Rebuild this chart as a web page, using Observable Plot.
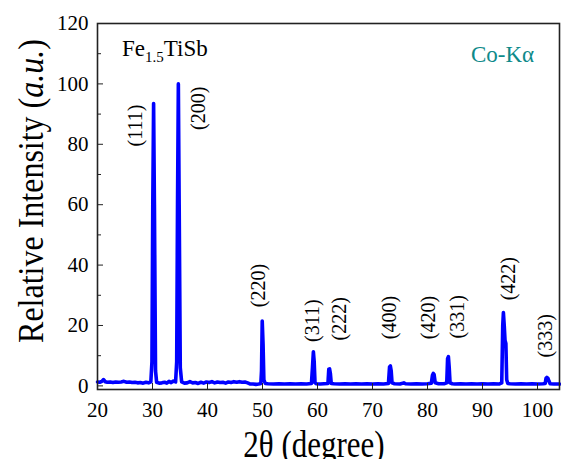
<!DOCTYPE html>
<html><head><meta charset="utf-8">
<script src="https://cdn.jsdelivr.net/npm/d3@7"></script>
<script src="https://cdn.jsdelivr.net/npm/@observablehq/plot@0.6"></script>
<style>
body{margin:0;background:#fff}
svg, svg text, svg tspan{font-family:"Liberation Serif","Times New Roman",serif !important}
</style>
</head><body><div id="chart"></div>
<script>
// XRD pattern of Fe1.5TiSb (Co-Kα)
const twoTheta = [
 20.0,20.4,20.8,21.1,21.4,21.8,22.3,22.8,23.3,23.8,24.3,24.8,25.3,25.8,26.3,26.8,27.3,27.8,28.3,28.8,29.3,29.7,
 29.9,30.05,30.2,30.35,30.55,30.75,31.2,31.7,32.2,32.6,33.0,33.4,33.8,34.2,
 34.4,34.55,34.7,34.85,35.05,35.3,35.8,36.3,36.8,37.3,37.8,38.3,38.8,39.3,39.8,40.3,40.8,41.3,41.8,42.3,42.8,
 43.3,43.8,44.3,44.8,45.3,45.8,46.3,46.8,47.3,47.8,48.3,48.8,49.3,49.7,
 49.82,49.95,50.1,50.25,50.5,51,52,53,54,55,56,57,58,58.9,
 59.08,59.25,59.4,59.55,59.8,60.5,61.2,61.9,62.05,62.2,62.35,62.5,63,64,65,66,67,68,69,70,71,72,72.9,
 73.1,73.25,73.4,73.55,74,75,75.7,76,77,78,79,80,80.7,80.9,81.05,81.2,81.4,82,83,83.5,
 83.65,83.8,83.95,84.1,84.5,85,86,87,88,89,90,91,92,93,93.5,
 93.68,93.8,93.95,94.1,94.25,94.4,94.6,95,96,97,98,99,100,101,101.4,
 101.55,101.7,101.9,102.1,102.3,103,104
];
const intensity = [
 1.3,1.2,1.5,2.1,1.4,1.2,1.3,1.1,1.3,1.2,1.3,1.5,1.2,1.3,1.1,1.2,1.0,1.1,0.9,1.2,1.0,1.3,
 8,60,93.5,60,5,1.2,0.9,1.0,1.2,0.9,1.5,1.1,1.6,1.3,
 8,60,100,60,6,1.3,0.9,1.0,1.4,1.0,1.1,0.8,1.2,0.9,1.3,1.1,1.4,1.0,1.3,1.1,1.2,
 0.9,1.3,1.1,1.4,1.2,1.4,1.2,1.3,1.0,0.6,0.6,0.5,0.6,0.8,
 5,21.5,14,2,0.8,0.7,0.6,0.7,0.6,0.7,0.6,0.7,0.6,0.8,
 6,11.3,8,1,0.7,0.6,0.7,0.8,5.5,5.6,4,0.8,0.7,0.6,0.7,0.6,0.7,0.6,0.7,0.6,0.7,0.6,0.8,
 6.3,6.6,5,1,0.7,0.6,1.0,0.7,0.6,0.7,0.6,0.7,0.9,3.5,4.1,3.8,1.0,0.7,0.7,1.0,
 9,9.7,6,1,0.7,0.6,0.7,0.6,0.7,0.6,0.7,0.6,0.7,0.6,1.0,
 20,24.3,20,15,14,2,0.8,0.7,0.6,0.7,0.6,0.7,0.6,0.7,0.8,
 2.5,2.8,2.5,1.5,0.7,0.6,0.6
];
const peakLabels = ["(111)","(200)","(220)","(311)","(222)","(400)","(420)","(331)","(422)","(333)"];
const labelX = [26.9,38.4,49.3,59.1,64.0,73.1,80.2,85.5,94.7,101.5];
const labelY = [86.2,91.9,33.2,21.6,22.2,22.6,22.6,22.9,35.5,16.6];
const xTicks = [20,30,40,50,60,70,80,90,100];
const yTicks = [0,20,40,60,80,100,120];
const yMinorTicks = [10,30,50,70,90,110];

const pattern = twoTheta.map((x, i) => ({x, y: intensity[i]}));
const labels = peakLabels.map((t, i) => ({t, x: labelX[i], y: labelY[i]}));
const serif = '"Liberation Serif","Times New Roman",serif';

const plot = Plot.plot({
  width: 561, height: 459,
  marginLeft: 97, marginRight: 2, marginTop: 23, marginBottom: 70,
  style: {fontFamily: serif, background: "white", color: "black"},
  x: {domain: [20, 104]},
  y: {domain: [-1.2, 120]},
  marks: [
    Plot.line(pattern, {x: "x", y: "y", stroke: "#0000ff", strokeWidth: 3.6, strokeLinejoin: "round"}),
    Plot.frame({stroke: "#222", strokeWidth: 1.6}),
    Plot.axisX(xTicks, {tickSize: -6, tickPadding: 19, fontSize: 21, fontFamily: serif, label: null, stroke: "#222"}),
    Plot.axisY(yTicks, {tickSize: -6, tickPadding: 15, fontSize: 21, fontFamily: serif, label: null, stroke: "#222"}),
    Plot.axisY(yMinorTicks, {tickSize: -4, fill: "none", label: null, stroke: "#222"}),
    Plot.text(labels, {x: "x", y: "y", text: "t", rotate: -90, fontSize: 20, fontFamily: serif, fill: "black"})
  ]
});

const svg = d3.select(plot);
svg.style("overflow", "visible");
// y axis title
const yt = svg.append("text")
  .attr("transform", "translate(43,191) rotate(-90) scale(1,1.1)")
  .attr("text-anchor", "middle").attr("font-size", 32).attr("font-family", serif).attr("fill", "black");
yt.append("tspan").text("Relative Intensity (");
yt.append("tspan").attr("font-style", "italic").text("a.u.");
yt.append("tspan").text(")");
// x axis title
svg.append("text").attr("transform", "translate(314,457) scale(1,1.2)").attr("text-anchor", "middle")
  .attr("font-size", 31).attr("font-family", serif).attr("fill", "black").text("2θ (degree)");
// compound name
const fe = svg.append("text").attr("x", 122).attr("y", 56).attr("text-anchor", "start")
  .attr("font-size", 23).attr("font-family", serif).attr("fill", "black");
fe.append("tspan").text("Fe");
fe.append("tspan").attr("font-size", 15).attr("dy", 6).text("1.5");
fe.append("tspan").attr("dy", -6).text("TiSb");
// radiation
svg.append("text").attr("x", 471).attr("y", 62).attr("text-anchor", "start")
  .attr("font-size", 23).attr("font-family", serif).attr("fill", "#0e8a8a").text("Co-Kα");

document.getElementById("chart").appendChild(plot);
</script>
</body></html>
